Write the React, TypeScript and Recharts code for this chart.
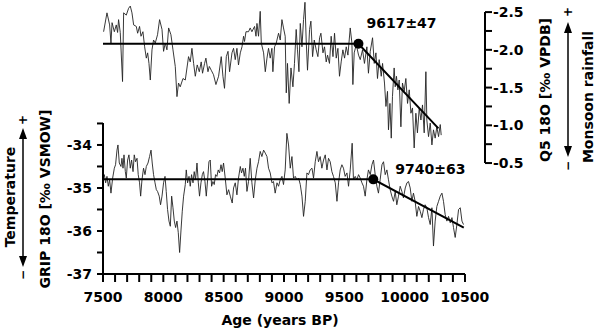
import { Line, LineChart, ReferenceDot, ReferenceLine, XAxis, YAxis } from "recharts";

// Q5 stalagmite δ18O (‰ VPDB), right axis
const q5Years = [
  7505, 7533, 7555, 7566, 7575, 7594, 7610, 7621, 7629, 7643, 7662, 7671, 7693, 7712, 7726, 7740, 7754, 7776, 7787, 7803,
  7815, 7831, 7845, 7859, 7870, 7881, 7892, 7906, 7919, 7933, 7952, 7969, 7989, 8002, 8016, 8030, 8044, 8063, 8080, 8099,
  8113, 8126, 8140, 8163, 8182,
  8209, 8223, 8237, 8251, 8265, 8281, 8298, 8314, 8325, 8342, 8353, 8370, 8381, 8397, 8416, 8436, 8458, 8480, 8494, 8507,
  8522, 8536, 8549, 8569, 8582, 8596, 8610, 8623, 8638, 8652, 8665, 8673, 8685, 8706, 8720, 8734, 8756, 8768, 8776, 8789,
  8803, 8812, 8831, 8845, 8859, 8872, 8886, 8900, 8908, 8922,
  8936, 8955, 8969, 8983, 8996, 9010, 9019, 9029, 9043, 9058, 9074, 9087, 9101, 9112, 9124, 9135, 9149, 9162, 9174, 9184,
  9195, 9212, 9223, 9237, 9251, 9267, 9281, 9295, 9306, 9323, 9336, 9350, 9361, 9377, 9391, 9406, 9419, 9433, 9447, 9460,
  9474, 9488, 9502, 9516, 9530, 9549, 9563, 9571, 9582, 9599, 9618,
  9632, 9651, 9667, 9687, 9700, 9715, 9734, 9748, 9762, 9775, 9789, 9806, 9817, 9833, 9845, 9858, 9866, 9878, 9889, 9899,
  9913, 9922, 9932, 9944, 9955, 9969, 9982, 9996, 10010, 10024, 10038, 10052, 10065, 10079, 10093, 10106, 10121, 10135, 10148, 10162,
  10176, 10184, 10198, 10212, 10226, 10239, 10253, 10267, 10281, 10295, 10303,
];
const q5Values = [
  -2.24, -2.49, -2.33, -2.09, -2.36, -2.24, -2.33, -2.23, -2.4, -2.23, -1.58, -2.49, -2.46, -2.55, -2.58, -2.49, -2.33, -2.31, -2.22, -2.31,
  -2.18, -2.24, -2.04, -1.89, -1.96, -1.82, -1.6, -2.0, -2.13, -2.09, -2.2, -2.4, -2.27, -1.98, -2.09, -2.0, -2.29, -2.2, -2.0, -1.78,
  -1.38, -1.56, -1.51, -1.62, -1.6,
  -1.91, -1.84, -2.02, -1.82, -1.65, -1.8, -1.71, -1.84, -1.69, -1.82, -1.89, -1.71, -1.78, -1.73, -1.67, -1.54, -1.65, -1.91, -1.65, -1.49,
  -1.91, -1.98, -1.71, -1.96, -2.02, -1.87, -2.02, -1.8, -1.96, -2.04, -2.18, -2.11, -2.24, -2.24, -2.29, -2.24, -2.31, -2.18, -2.35, -2.18,
  -2.51, -2.09, -1.96, -1.71, -1.89, -2.02, -1.89, -2.02, -1.71, -2.04,
  -2.09, -2.22, -2.13, -2.4, -2.29, -2.18, -1.43, -1.82, -1.29, -1.76, -1.51, -1.82, -2.27, -2.0, -1.71, -2.35, -2.04, -2.4, -2.63, -2.13,
  -1.73, -2.27, -2.38, -1.91, -2.13, -2.0, -1.91, -2.16, -2.22, -1.96, -2.04, -1.84, -1.93, -1.82, -2.18, -1.91, -2.22, -1.89, -2.02, -1.65,
  -1.84, -2.0, -1.89, -2.04, -1.93, -2.29, -2.09, -1.54, -1.96, -2.07, -1.93,
  -1.87, -2.0, -1.82, -2.04, -1.69, -1.98, -2.16, -1.82, -1.96, -1.62, -1.87, -1.65, -1.82, -1.56, -1.25, -1.45, -0.94, -1.29, -0.83, -1.38,
  -1.76, -1.51, -1.65, -1.47, -1.6, -0.98, -1.56, -1.45, -1.62, -1.29, -1.47, -1.16, -1.23, -0.7, -1.16, -0.9, -1.23, -1.07, -1.27, -0.9,
  -1.71, -1.07, -0.85, -1.03, -0.74, -0.94, -0.83, -0.98, -0.85, -1.01, -0.87,
];

// GRIP ice core δ18O (‰ VSMOW), left axis
const gripYears = [
  7500, 7511, 7522, 7533, 7544, 7555, 7566, 7580, 7594, 7604,
  7616, 7624, 7635, 7649, 7657, 7666, 7674, 7685, 7693, 7704,
  7715, 7726, 7737, 7749, 7759, 7770, 7782, 7792, 7803, 7812,
  7823, 7836, 7848, 7859, 7873, 7886, 7898, 7908, 7919, 7931,
  7942, 7952, 7966, 7977, 7989, 8002, 8014, 8024, 8035, 8047,
  8058, 8069, 8080, 8091, 8102, 8113, 8124, 8135, 8146, 8157,
  8168, 8182, 8190, 8201, 8213, 8223, 8234, 8246, 8256, 8267,
  8279, 8290, 8300, 8312, 8323, 8333, 8345, 8356, 8367, 8378,
  8389, 8400, 8411, 8422, 8433, 8444, 8455, 8466, 8478, 8488,
  8499, 8513, 8527, 8541, 8555, 8571, 8582, 8596, 8610, 8623,
  8638, 8648, 8660, 8671, 8681, 8693, 8706, 8720, 8734, 8748,
  8762, 8776, 8789, 8803, 8817, 8831, 8845, 8859, 8872, 8886,
  8900, 8913, 8927, 8942, 8955, 8969, 8983, 8996, 9010, 9024,
  9038, 9052, 9066, 9079, 9093, 9107, 9121, 9135, 9149, 9162,
  9176, 9190, 9203, 9217, 9232, 9245, 9259, 9273, 9286, 9300,
  9314, 9328, 9342, 9356, 9369, 9383, 9397, 9410, 9425, 9439,
  9452, 9466, 9480, 9493, 9507, 9522, 9535, 9549, 9565, 9576,
  9590, 9604, 9618, 9632, 9646, 9659, 9673, 9687, 9700, 9715,
  9729, 9742, 9756, 9770, 9783, 9797, 9812, 9825, 9839, 9853,
  9866, 9880, 9894, 9908, 9922, 9935, 9949, 9963, 9977, 9990,
  10005, 10019, 10032, 10046, 10060, 10073, 10087, 10101, 10115, 10129,
  10143, 10156, 10170, 10184, 10198, 10212, 10226, 10239, 10253, 10267,
  10281, 10295, 10309, 10322, 10336, 10350, 10364, 10378, 10392, 10405,
  10419, 10433, 10447, 10461, 10475, 10488,
];
const gripValues = [
  -34.81, -34.69, -34.88, -34.73, -34.96, -34.81, -35.12, -34.77, -34.54, -34.46,
  -34.12, -34.0, -34.42, -34.5, -34.31, -34.54, -34.23, -34.62, -34.77, -34.35,
  -34.23, -34.54, -34.35, -34.62, -34.23, -34.39, -34.31, -34.69, -34.88, -35.19,
  -34.81, -34.54, -34.69, -34.5, -34.42, -34.27, -34.12, -34.42, -34.69, -34.88,
  -35.04, -35.08, -35.19, -35.39, -35.19, -34.88, -34.73, -35.08, -35.5, -35.77,
  -35.89, -35.19, -35.46, -35.77, -35.92, -35.77, -36.04, -36.5, -36.0, -35.54,
  -35.19, -34.92, -34.58, -34.88, -34.73, -34.96, -34.69, -34.88, -34.62, -34.81,
  -34.42, -34.88, -35.19, -34.88, -34.69, -34.62, -34.85, -35.19, -34.81, -34.39,
  -34.35, -34.96, -34.85, -34.92, -34.69, -34.73, -34.58, -34.65, -34.46, -34.62,
  -34.42, -34.77, -35.16, -35.04, -35.19, -35.35, -35.0, -34.88, -35.16, -34.77,
  -34.5, -34.65, -34.54, -34.73, -34.54, -35.08, -34.85, -34.31, -34.88, -35.23,
  -34.81, -34.54, -34.39, -34.15, -34.27, -34.12, -34.19, -34.27, -34.54, -34.65,
  -34.88, -34.85, -35.12, -34.88, -34.96, -34.81, -34.73, -34.92, -34.58, -33.73,
  -34.0, -34.54, -34.27, -34.77, -34.73, -34.81, -34.77, -34.92, -35.19, -35.66,
  -35.31, -34.65, -34.69, -34.58, -34.54, -34.77, -34.39, -34.15, -34.39, -34.27,
  -34.54, -34.35, -34.23, -34.58, -34.31, -34.39, -34.62, -34.73, -34.88, -35.31,
  -34.88, -34.58, -34.46, -34.54, -34.73, -34.65, -34.96, -34.58, -33.96, -34.81,
  -34.73, -34.81, -34.69, -34.77, -34.88, -34.96, -35.19, -34.81, -34.58, -34.69,
  -34.46, -34.35, -34.69, -34.96, -35.12, -34.81, -34.46, -34.39, -34.69, -34.58,
  -34.81, -35.04, -35.19, -35.31, -35.08, -35.39, -35.19, -34.96, -35.08, -35.23,
  -35.0, -34.88, -34.85, -35.0, -35.31, -35.12, -35.31, -35.66, -35.43, -35.54,
  -35.69, -35.5, -35.39, -35.46, -35.69, -35.85, -35.46, -36.35, -35.77, -35.43,
  -35.31, -35.19, -35.12, -35.31, -35.62, -35.77, -35.66, -35.81, -35.69, -35.92,
  -36.15, -35.85, -35.5, -35.46, -35.77, -35.85,
];

// two-segment fits (flat, then trend) and their break points
const q5FitYears = [7500, 9617, 10280];
const q5FitValues = [-2.08, -2.08, -0.96];
const gripFitYears = [7500, 9740, 10490];
const gripFitValues = [-34.8, -34.8, -35.92];
const q5Break = { year: 9617, value: -2.08, label: "9617±47" };
const gripBreak = { year: 9740, value: -34.8, label: "9740±63" };

const ageLabels = [7500, 8000, 8500, 9000, 9500, 10000, 10500];
const ageTicks = Array.from({ length: 31 }, (_, i) => 7500 + i * 100);
const gripTicks = [-37, -36.5, -36, -35.5, -35, -34.5, -34, -33.5];
const q5Ticks = [-2.5, -2.25, -2.0, -1.75, -1.5, -1.25, -1.0, -0.75, -0.5];

const rows = (xs: number[], ys: number[]) => xs.map((year, i) => ({ year, v: ys[i] }));
const q5Data = rows(q5Years, q5Values);
const gripData = rows(gripYears, gripValues);
const q5Fit = rows(q5FitYears, q5FitValues);
const gripFit = rows(gripFitYears, gripFitValues);

// one plot area (x 103..485, y -3..274) shared by the two stacked records:
// the scales are stretched so each record sits in its own band
const AGE_END = 10666; // right axis sits beyond the 10500 tick
const GRIP_TOP = -30.56; // GRIP axis itself stops at -33.5
const Q5_BOTTOM = 0.97; // Q5 axis itself stops at -0.5

const FONT = "'DejaVu Sans', 'Liberation Sans', sans-serif";
const textProps = { fill: "#000", fontSize: 14, fontWeight: 700, fontFamily: FONT } as const;
const abs = { position: "absolute" as const, left: 0, top: 0 };

const ageTick = (p: any) => {
  const v = p.payload.value;
  return (
    <g>
      <path d={`M${p.x},${p.y}V${p.y + 8}`} stroke="#000" strokeWidth={2} fill="none" />
      {ageLabels.includes(v) && (
        <text x={p.x} y={p.y + 18} dy="0.71em" textAnchor="middle" {...textProps}>
          {v}
        </text>
      )}
    </g>
  );
};
const gripTick = (p: any) => {
  const v = p.payload.value;
  return (
    <g>
      <path d={`M${p.x - 6},${p.y}H${p.x}`} stroke="#000" strokeWidth={2} fill="none" />
      {Number.isInteger(v) && (
        <text x={p.x - 11} y={p.y} dy="0.36em" textAnchor="end" {...textProps}>
          {v}
        </text>
      )}
    </g>
  );
};
const q5Tick = (p: any) => {
  const v = p.payload.value;
  const labelled = Math.abs((v * 2) % 1) < 1e-6;
  return (
    <g>
      <path d={`M${p.x},${p.y}H${p.x + 7}`} stroke="#000" strokeWidth={2} fill="none" />
      {labelled && (
        <text x={p.x + 8} y={p.y} dy="0.36em" textAnchor="start" {...textProps}>
          {v.toFixed(1)}
        </text>
      )}
    </g>
  );
};

function breakShape(label: string, dx: number, dy: number) {
  return (p: any) => (
    <g>
      <circle cx={p.cx} cy={p.cy} r={5} fill="#000" />
      <text x={p.cx + dx} y={p.cy + dy} dominantBaseline="central" {...textProps}>
        {label}
      </text>
    </g>
  );
}

function Arrow({ x, top, bottom }: { x: number; top: number; bottom: number }) {
  return (
    <g>
      <line x1={x} y1={top + 8} x2={x} y2={bottom - 8} stroke="#000" strokeWidth={1.5} />
      <polygon points={`${x},${top} ${x - 4},${top + 11} ${x + 4},${top + 11}`} fill="#000" />
      <polygon points={`${x},${bottom} ${x - 4},${bottom - 11} ${x + 4},${bottom - 11}`} fill="#000" />
    </g>
  );
}

function Rot({ x, y, children, size = 14 }: { x: number; y: number; children: string; size?: number }) {
  return (
    <text transform={`translate(${x},${y}) rotate(-90)`} textAnchor="middle" dominantBaseline="central" {...textProps} fontSize={size}>
      {children}
    </text>
  );
}

export default function App() {
  return (
    <div style={{ ...abs, width: 600, height: 330, background: "#fff" }}>
      <LineChart width={600} height={330} margin={{ top: -3, right: 55, bottom: 26, left: 42 }}>
        <XAxis
          dataKey="year"
          type="number"
          domain={[7500, AGE_END]}
          ticks={ageTicks}
          interval={0}
          tickSize={0}
          tickMargin={0}
          height={30}
          axisLine={false}
          tick={ageTick}
        />
        <YAxis
          yAxisId="grip"
          domain={[-37, GRIP_TOP]}
          ticks={gripTicks}
          interval={0}
          tickSize={0}
          tickMargin={0}
          width={61}
          axisLine={false}
          tick={gripTick}
        />
        <YAxis
          yAxisId="q5"
          orientation="right"
          domain={[-2.7, Q5_BOTTOM]}
          reversed
          ticks={q5Ticks}
          interval={0}
          tickSize={0}
          tickMargin={0}
          width={60}
          axisLine={false}
          tick={q5Tick}
        />
        <ReferenceLine
          yAxisId="grip"
          ifOverflow="visible"
          segment={[
            { x: 7500, y: -37 },
            { x: 10500, y: -37 },
          ]}
          stroke="#000"
          strokeWidth={2}
        />
        <ReferenceLine
          yAxisId="grip"
          ifOverflow="visible"
          segment={[
            { x: 7500, y: -37 },
            { x: 7500, y: -33.5 },
          ]}
          stroke="#000"
          strokeWidth={2}
        />
        <ReferenceLine
          yAxisId="q5"
          ifOverflow="visible"
          segment={[
            { x: AGE_END, y: -2.5 },
            { x: AGE_END, y: -0.5 },
          ]}
          stroke="#000"
          strokeWidth={2}
        />
        <Line yAxisId="q5" data={q5Data} dataKey="v" stroke="#222" strokeWidth={0.9} dot={false} isAnimationActive={false} />
        <Line yAxisId="q5" data={q5Fit} dataKey="v" stroke="#000" strokeWidth={2} dot={false} isAnimationActive={false} />
        <Line yAxisId="grip" data={gripData} dataKey="v" stroke="#222" strokeWidth={0.9} dot={false} isAnimationActive={false} />
        <Line yAxisId="grip" data={gripFit} dataKey="v" stroke="#000" strokeWidth={2} dot={false} isAnimationActive={false} />
        <ReferenceDot yAxisId="q5" x={q5Break.year} y={q5Break.value} r={5} shape={breakShape(q5Break.label, 8, -21)} />
        <ReferenceDot yAxisId="grip" x={gripBreak.year} y={gripBreak.value} r={5} shape={breakShape(gripBreak.label, 22, -10)} />
      </LineChart>
      <svg width={600} height={330} style={{ ...abs, pointerEvents: "none" }}>
        {/* frame lines of the GRIP panel, repeated here so they always show */}
        <path d="M103,123V274H465" stroke="#000" strokeWidth={2} fill="none" />
        <Rot x={10} y={197}>Temperature</Rot>
        <Rot x={45} y={199}>GRIP 18O [‰ VSMOW]</Rot>
        <Arrow x={23} top={128} bottom={267} />
        <Rot x={23} y={120} size={12}>+</Rot>
        <Rot x={23} y={275} size={12}>−</Rot>
        <Rot x={545} y={90}>Q5 18O [‰ VPDB]</Rot>
        <Rot x={588} y={97}>Monsoon rainfall</Rot>
        <Arrow x={568} top={22} bottom={157} />
        <Rot x={568} y={12} size={12}>+</Rot>
        <Rot x={568} y={166} size={12}>−</Rot>
        <text x={280} y={325} textAnchor="middle" {...textProps}>
          Age (years BP)
        </text>
      </svg>
    </div>
  );
}
